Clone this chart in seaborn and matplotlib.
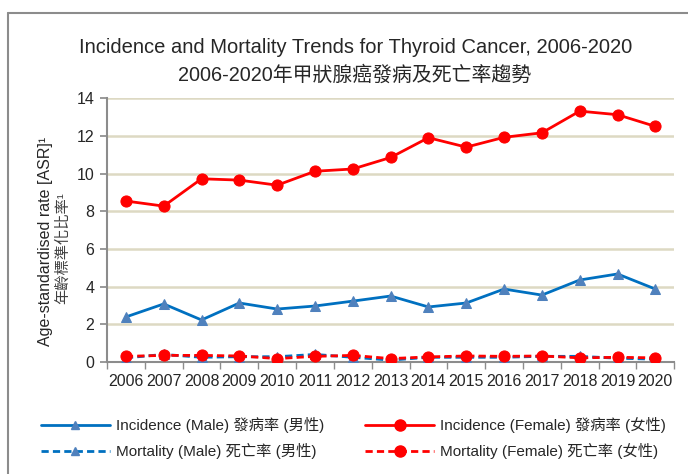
import matplotlib
matplotlib.use("Agg")
import matplotlib.pyplot as plt
import seaborn as sns
import pandas as pd
from matplotlib.lines import Line2D

years = list(range(2006, 2021))
inc_male = [2.39, 3.08, 2.23, 3.13, 2.81, 2.97, 3.23, 3.50, 2.92, 3.13, 3.87, 3.55, 4.35, 4.67, 3.87]
inc_female = [8.54, 8.27, 9.72, 9.65, 9.38, 10.12, 10.24, 10.85, 11.90, 11.40, 11.92, 12.16, 13.31, 13.12, 12.50]
mort_male = [0.22, 0.40, 0.25, 0.28, 0.28, 0.40, 0.25, 0.10, 0.25, 0.25, 0.25, 0.30, 0.30, 0.20, 0.15]
mort_female = [0.30, 0.35, 0.35, 0.32, 0.18, 0.30, 0.35, 0.18, 0.27, 0.32, 0.30, 0.32, 0.22, 0.25, 0.22]
labels = ["Incidence (Male) 發病率 (男性)", "Incidence (Female) 發病率 (女性)",
          "Mortality (Male) 死亡率 (男性)", "Mortality (Female) 死亡率 (女性)"]
title1 = "Incidence and Mortality Trends for Thyroid Cancer, 2006-2020"
title2 = "2006-2020年甲狀腺癌發病及死亡率趨勢"
ylabel1 = "Age-standardised rate [ASR]¹"
ylabel2 = "年齡標準化比率¹"

sns.set_theme(style="white")
plt.rcParams['font.family'] = ['Liberation Sans', 'Noto Sans CJK TC', 'DejaVu Sans']

fig = plt.figure(figsize=(6.88, 4.74), dpi=100)
ax = fig.add_axes([0.1555, 0.2363, 0.8245, 0.5567])

blue_line = "#0070C0"
blue_mark = "#4F81BD"
red = "#FF0000"
LW = 2.0
DASH = (2.6, 1.5)

series = [
    (mort_male, blue_line, blue_mark, "^", DASH, 7),
    (mort_female, red, red, "o", DASH, 8),
    (inc_male, blue_line, blue_mark, "^", None, 7),
    (inc_female, red, red, "o", None, 8),
]
for vals, lc, mc, mk, dash, ms in series:
    d = pd.DataFrame({"year": years, "v": vals})
    sns.lineplot(data=d, x="year", y="v", ax=ax, color=lc, linewidth=LW,
                 marker=mk, markersize=ms, markerfacecolor=mc, markeredgecolor=mc,
                 legend=False)
    l = ax.lines[-1]
    if dash is not None:
        l.set_dashes(dash)
    l.set_zorder(3)

ax.set_xlim(2005.5, 2020.5)
ax.set_ylim(0, 14)
ax.set_yticks(range(0, 15, 2))
ax.set_xticks(years)
ax.set_xticklabels([str(y) for y in years], fontsize=11.5)
ax.set_xticks([y + 0.5 for y in [2005] + years], minor=True)
ax.tick_params(axis='x', which='major', length=0, pad=9)
ax.tick_params(axis='x', which='minor', length=5, color="#8C8C8C", direction='out', bottom=True)
ax.tick_params(axis='y', length=5, color="#8C8C8C", direction='out', left=True, labelsize=11.5, pad=4)
for yv in range(2, 15, 2):
    ax.axhline(yv, color="#DDD9C3", linewidth=1.8, zorder=0)
for s in ["top", "right"]:
    ax.spines[s].set_visible(False)
for s in ["left", "bottom"]:
    ax.spines[s].set_color("#8C8C8C")
    ax.spines[s].set_linewidth(1.5)
ax.set_xlabel("")
ax.set_ylabel("")

fig.text(0.517, 0.900, title1, ha="center", va="center", fontsize=14.5)
fig.text(0.515, 0.842, title2, ha="center", va="center", fontsize=14.3)
fig.text(0.066, 0.4916, ylabel1, rotation=90, ha="center", va="center", fontsize=11.5)
fig.text(0.091, 0.477, ylabel2, rotation=90, ha="center", va="center", fontsize=11, color="#404040")

h_im = Line2D([], [], color=blue_line, lw=LW, marker="^", markersize=6, markerfacecolor=blue_mark, markeredgecolor=blue_mark)
h_if = Line2D([], [], color=red, lw=LW, marker="o", markersize=8)
h_mm = Line2D([], [], color=blue_line, lw=LW, marker="^", markersize=6, markerfacecolor=blue_mark, markeredgecolor=blue_mark, dashes=DASH)
h_mf = Line2D([], [], color=red, lw=LW, marker="o", markersize=8, dashes=DASH)
# column-major fill: col1 = male, col2 = female
fig.legend([h_im, h_mm, h_if, h_mf], [labels[0], labels[2], labels[1], labels[3]],
           loc="center", bbox_to_anchor=(0.514, 0.075), ncol=2, frameon=False,
           fontsize=11, handlelength=4.5, columnspacing=2.7, labelspacing=0.65, handletextpad=0.4)

fig.add_artist(Line2D([0.0116, 0.0116], [0.0, 0.9726], color="#8C8C8C", lw=1.5, transform=fig.transFigure))
fig.add_artist(Line2D([0.0116, 1.0], [0.9726, 0.9726], color="#8C8C8C", lw=1.5, transform=fig.transFigure))

fig.savefig("out.png", dpi=100)
